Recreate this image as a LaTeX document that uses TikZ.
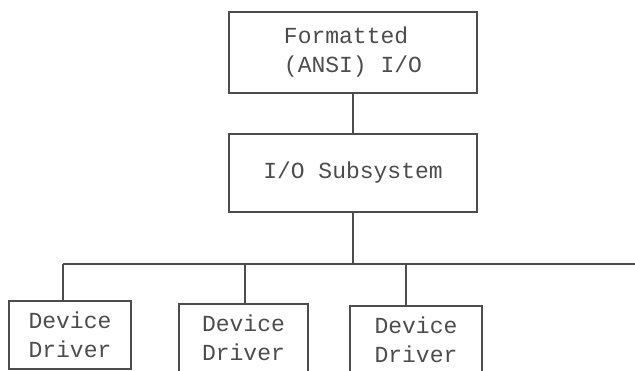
\documentclass[tikz,border=0pt]{standalone}
\usepackage{fontspec}
\setmonofont{Liberation Mono}

\tikzset{
  blk/.style={draw=black!70, line width=1.4pt, rectangle, inner sep=0pt,
    font=\ttfamily\fontsize{23}{29}\selectfont, text=black!70, align=left},
  wire/.style={draw=black!70, line width=1.4pt}
}

\begin{document}
\begin{tikzpicture}[x=1pt, y=-1pt]
  \useasboundingbox (0,0) rectangle (635,371);
  \clip (0,0) rectangle (635,371);

  \node[blk, minimum width=248pt, minimum height=81pt] (fmt) at (353,52.5) {Formatted\\(ANSI) I/O};
  \node[blk, minimum width=248pt, minimum height=78pt] (sub) at (353,173) {I/O Subsystem};

  % drivers hang off the bus
  \node[blk, minimum width=122pt, minimum height=68pt] (drv1) at (70,335) {Device\\Driver};
  \node[blk, minimum width=129pt, minimum height=68pt] (drv2) at (243.5,338) {Device\\Driver};
  \node[blk, minimum width=132pt, minimum height=68pt] (drv3) at (416,340) {Device\\Driver};

  \coordinate (bus) at (353,264);
  \coordinate (b1) at (63,264);
  \coordinate (b2) at (245,264);
  \coordinate (b3) at (406,264);
  \coordinate (bend) at (636,264);

  \draw[wire] (fmt) -- (sub);
  \draw[wire] (sub) -- (bus);
  \draw[wire] (b1) -- (bend);
  \draw[wire] (b1) -- (b1 |- drv1.north);
  \draw[wire] (b2) -- (b2 |- drv2.north);
  \draw[wire] (b3) -- (b3 |- drv3.north);
\end{tikzpicture}
\end{document}
